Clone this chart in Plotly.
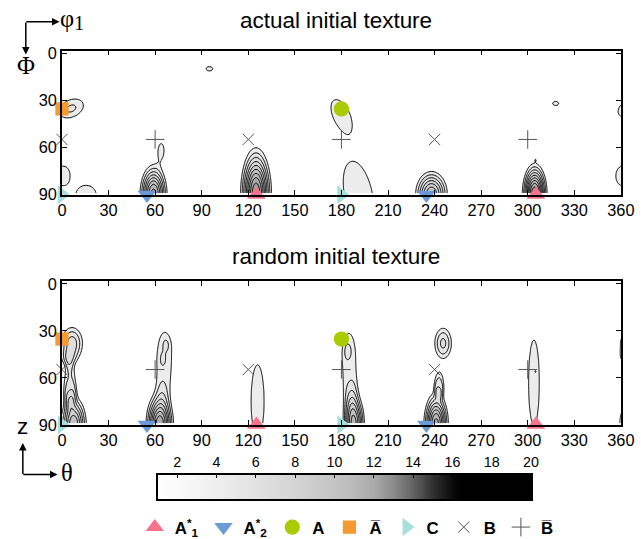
import numpy as np
import plotly.graph_objects as go

# ---------------- marker data (phi1, Phi) ----------------
A1_phi = [125.26, 305.26]; A1_Phi = [90, 90]
A2_phi = [54.74, 234.74]; A2_Phi = [90, 90]
A_phi = [180]; A_Phi = [35.26]
Abar_phi = [0]; Abar_Phi = [35.26]
C_phi = [0, 180]; C_Phi = [90, 90]
B_phi = [0, 120, 240]; B_Phi = [54.74, 54.74, 54.74]
Bbar_phi = [60, 180, 300]; Bbar_Phi = [54.74, 54.74, 54.74]

# ---------------- intensity peaks ----------------
top_pk_phi = [95, 6, 1, 15.5, 59, 64, 125, 191, 180, 238, 304.5, 305, 318]
top_pk_Phi = [9.7, 35, 78, 90, 90, 61, 90, 90, 39.5, 90, 90, 67.5, 31.8]
top_pk_amp = [3.3, 4.2, 3.6, 3.6, 10.5, 3.4, 12, 3.6, 3.6, 9, 12, 1.0, 3.3]
top_pk_sphi = [3.3, 10, 5.5, 8.4, 5.5, 2.6, 6, 11.5, 7, 6.9, 4.8, 1.0, 3]
top_pk_sPhi = [2.1, 6.6, 8, 7.7, 12, 6, 18, 28, 14, 10, 12, 1.2, 2]
top_pk_pow = [2, 1, 2, 2, 1, 1, 1, 2, 2, 1, 1, 1, 2]
top_pk_tilt = [0, 25, 0, 0, 0, 0, 0, 12, 25, 0, 0, 0, 0]

bot_pk_phi = [6.5, 4, 7.5, 5, 63, 66, 67, 65, 126, 188, 185, 184, 245.5, 241, 243, 304, 305]
bot_pk_Phi = [38, 48, 90, 65, 90, 47, 39, 48, 75, 90, 50, 43, 38, 90, 64, 63, 56]
bot_pk_amp = [5.6, 2.5, 9, 3.5, 11, 3.3, 1.2, 1.1, 3.6, 9.5, 3.3, 1.2, 5.3, 10.5, 3.2, 3.6, 0.5]
bot_pk_sphi = [6, 3.5, 5.5, 4, 5.5, 6.8, 1.8, 1.6, 5.4, 4.5, 6, 2.2, 5, 5, 3, 4.5, 0.8]
bot_pk_sPhi = [9, 4, 12, 12, 13, 22.7, 3.5, 3.5, 30, 13, 26, 5, 9, 13, 8, 35, 1]
bot_pk_pow = [1, 1, 1, 2, 1, 2, 1, 1, 2, 1, 2, 1, 1, 1, 2, 2, 1]
bot_pk_tilt = [0] * 17

x_ticks = list(range(0, 361, 30))
y_ticks = [0, 30, 60, 90]
cb_ticks = list(range(2, 21, 2))

cb_anchor_val = [1, 2, 4, 6, 8, 10, 11, 12, 13, 14, 15, 16, 16.5, 20]
cb_anchor_grey = [255, 250, 238, 226, 212, 196, 186, 170, 140, 100, 50, 12, 0, 0]

phi_grid = np.arange(0, 360.5, 1.0)
Phi_grid = np.arange(0, 89.01, 0.5)
PP, TT = np.meshgrid(phi_grid, Phi_grid)


def build_field(cphi, cPhi, amp, sphi, sPhi, pw, tilt):
    Z = np.zeros_like(PP)
    for c1, c2, a, s1, s2, p, t in zip(cphi, cPhi, amp, sphi, sPhi, pw, tilt):
        dx = ((PP - c1 + 180) % 360) - 180
        dy = TT - c2
        tr = np.radians(t)
        u = dx * np.cos(tr) - dy * np.sin(tr)
        v = dx * np.sin(tr) + dy * np.cos(tr)
        q = (u / s1) ** 2 + (v / s2) ** 2
        Z += a * np.exp(-0.5 * q ** p)
    return Z


Z_top = build_field(top_pk_phi, top_pk_Phi, top_pk_amp, top_pk_sphi, top_pk_sPhi, top_pk_pow, top_pk_tilt)
Z_bot = build_field(bot_pk_phi, bot_pk_Phi, bot_pk_amp, bot_pk_sphi, bot_pk_sPhi, bot_pk_pow, bot_pk_tilt)

c_start, c_end, c_size = 3, 20, 1
dom_lo = c_start - c_size / 2
dom_hi = c_start + (np.floor((c_end - c_start) / c_size) + 0.5) * c_size
ct_val = [2.5, 3.5, 5.5, 7.5, 9.5, 11.5, 13.5, 15.5, 20.5]
ct_grey = [255, 236, 222, 205, 185, 160, 120, 40, 0]
cs_contour = [[(v - dom_lo) / (dom_hi - dom_lo), f"rgb({g},{g},{g})"] for v, g in zip(ct_val, ct_grey)]
cs_bar = [[(v - 1) / 19, f"rgb({g},{g},{g})"] for v, g in zip(cb_anchor_val, cb_anchor_grey)]

# reference-pixel -> layout conversion
RW, RH = 641, 539
K = 1.0203
W, H = round(RW * K), round(RH * K)


def fx(x):
    return x / RW


def fy(y):
    return 1 - y / RH


def sz(v):
    return v * K


fig = go.Figure()

for Z, xa, ya in [(Z_top, "x", "y"), (Z_bot, "x2", "y2")]:
    fig.add_trace(go.Contour(
        x=phi_grid, y=Phi_grid, z=Z, xaxis=xa, yaxis=ya,
        contours=dict(start=c_start, end=c_end, size=c_size, coloring="fill"),
        colorscale=cs_contour, showscale=False,
        line=dict(color="black", width=1, smoothing=1),
        hoverinfo="skip", showlegend=False))

cb_x = np.linspace(1, 20, 400)
fig.add_trace(go.Heatmap(x=cb_x, y=[0.5], z=[cb_x], xaxis="x3", yaxis="y3",
                         colorscale=cs_bar, zmin=1, zmax=20, showscale=False,
                         hoverinfo="skip"))

markers = [
    ("<b>A<sup>*</sup><sub>1</sub></b>", A1_phi, A1_Phi, dict(symbol="triangle-up", color="#F7728A", size=sz(16))),
    ("<b>A<sup>*</sup><sub>2</sub></b>", A2_phi, A2_Phi, dict(symbol="triangle-down", color="#6B9AD6", size=sz(16))),
    ("<b>A</b>", A_phi, A_Phi, dict(symbol="circle", color="#A9CC00", size=sz(15))),
    ("<b>A\u0305</b>", Abar_phi, Abar_Phi, dict(symbol="square", color="#F49A2E", size=sz(13))),
    ("<b>C</b>", C_phi, C_Phi, dict(symbol="triangle-right", color="#A8DEDB", size=sz(16))),
    ("<b>B</b>", B_phi, B_Phi, dict(symbol="x-thin", color="#555555", size=sz(11),
                                     line=dict(color="#555555", width=1))),
    ("<b>B\u0305</b>", Bbar_phi, Bbar_Phi, dict(symbol="cross-thin", color="#555555", size=sz(13),
                                     line=dict(color="#555555", width=1))),
]
for i, (xa, ya) in enumerate([("x", "y"), ("x2", "y2")]):
    for name, xs, ys, mk in markers:
        fig.add_trace(go.Scatter(x=xs, y=ys, xaxis=xa, yaxis=ya, mode="markers",
                                 marker=mk, name=name, legendgroup=name,
                                 showlegend=(i == 0), cliponaxis=False,
                                 hoverinfo="skip"))

xdom = [fx(57.5), fx(621.7)]
ax_common = dict(showline=True, linecolor="black", linewidth=1.5, mirror="ticks",
                 ticks="inside", ticklen=sz(5), tickwidth=1, tickcolor="black",
                 showgrid=False, zeroline=False,
                 tickfont=dict(family="Liberation Sans, Arial", size=sz(16), color="black"))

fig.update_layout(
    width=W, height=H, margin=dict(l=0, r=0, t=0, b=0),
    paper_bgcolor="white", plot_bgcolor="white",
    xaxis=dict(domain=xdom, range=[0, 360], tickvals=x_ticks, anchor="y", **ax_common),
    yaxis=dict(domain=[fy(189.5), fy(44)], range=[90, -1.9], tickvals=y_ticks,
               anchor="x", **ax_common),
    xaxis2=dict(domain=xdom, range=[0, 360], tickvals=x_ticks, anchor="y2", **ax_common),
    yaxis2=dict(domain=[fy(421.7), fy(276.7)], range=[90, -1.7], tickvals=y_ticks,
                anchor="x2", **ax_common),
    xaxis3=dict(domain=[fx(154), fx(531)], range=[1, 20], tickvals=cb_ticks, side="top",
                anchor="y3", showline=True, linecolor="black", linewidth=1.5, mirror=True,
                ticks="inside", ticklen=sz(4), tickcolor="black", showgrid=False, zeroline=False,
                tickfont=dict(family="Liberation Sans, Arial", size=sz(14), color="black")),
    yaxis3=dict(domain=[fy(497), fy(472)], range=[0, 1], anchor="x3",
                showline=True, linecolor="black", linewidth=1.5, mirror=True,
                showticklabels=False, ticks="", showgrid=False, zeroline=False),
    legend=dict(orientation="h", x=fx(131), xanchor="left", y=fy(525), yanchor="middle",
                font=dict(family="Liberation Sans, Arial", size=sz(16.5), color="black"),
                itemsizing="trace", bgcolor="rgba(0,0,0,0)", tracegroupgap=0),
    showlegend=True,
)

serif = "Liberation Serif, Times New Roman, serif"
sans = "Liberation Sans, Arial"
ann = [
    dict(text="actual initial texture", x=fx(334), y=fy(14), font=dict(family=sans, size=sz(22), color="black")),
    dict(text="random initial texture", x=fx(334), y=fy(252), font=dict(family=sans, size=sz(22), color="black")),
    dict(text="Φ", x=fx(21), y=fy(59), font=dict(family=serif, size=sz(24), color="black")),
    dict(text="φ", x=fx(63), y=fy(12), font=dict(family=serif, size=sz(24), color="black")),
    dict(text="1", x=fx(75), y=fy(16), font=dict(family=serif, size=sz(20), color="black")),
    dict(text="z", x=fx(18), y=fy(423), font=dict(family=sans, size=sz(22), color="black")),
    dict(text="θ", x=fx(63), y=fy(470), font=dict(family=serif, size=sz(24), color="black")),
]
for a in ann:
    fig.add_annotation(xref="paper", yref="paper", showarrow=False,
                       xanchor="center", yanchor="middle", **a)

arrows = [((55, 15), (21, 15)), ((21, 48), (21, 15)), ((18, 440), (18, 472)), ((53, 472), (18, 472))]
for (hx, hy), (tx, ty) in arrows:
    fig.add_annotation(xref="paper", yref="paper", x=fx(hx), y=fy(hy), text="",
                       showarrow=True, ax=sz(tx - hx), ay=sz(ty - hy), arrowhead=2, arrowsize=1,
                       arrowwidth=1.5, arrowcolor="black")

fig.write_html("out.html")
